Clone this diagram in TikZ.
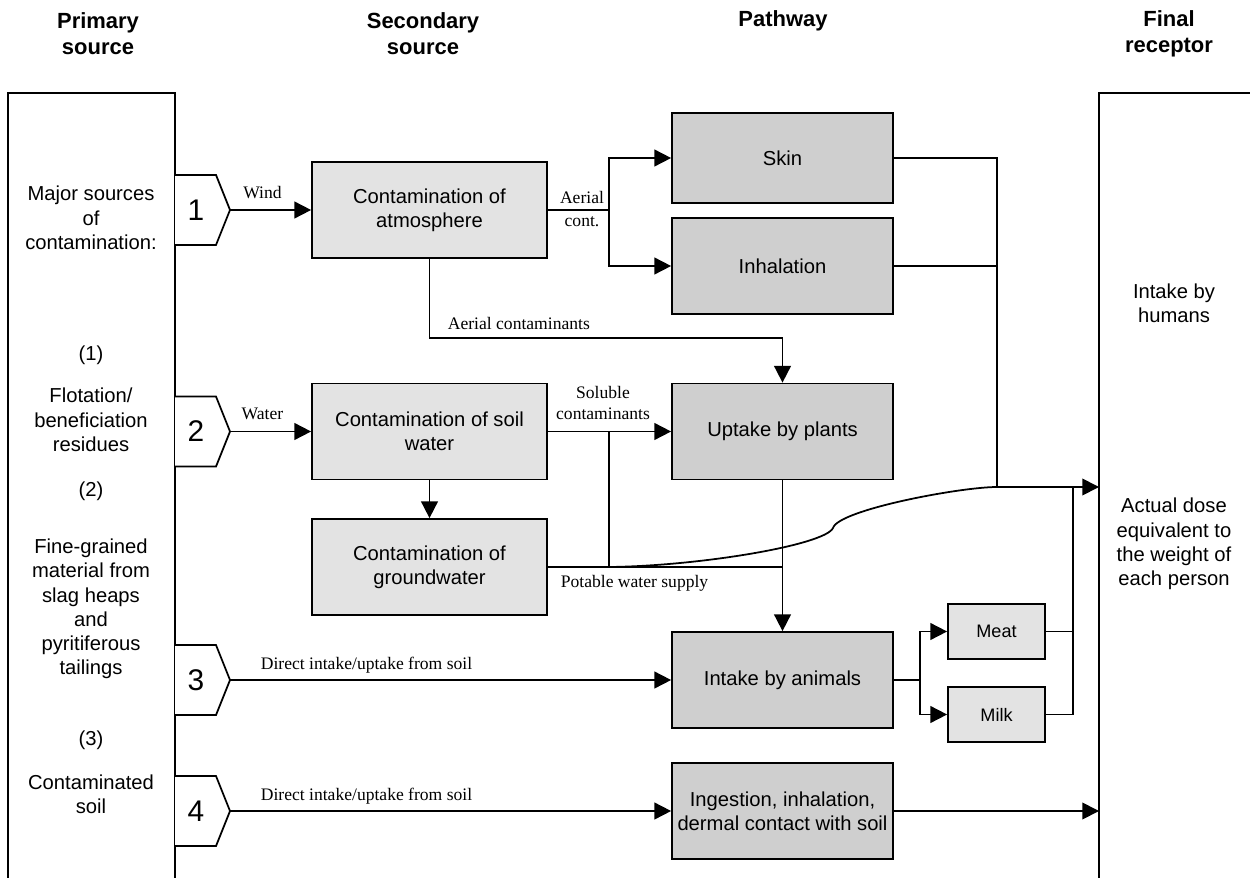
\documentclass[tikz,border=0pt]{standalone}
\usepackage{fontspec}
\setmainfont{Liberation Serif}
\setsansfont{Liberation Sans}
\usetikzlibrary{arrows.meta, positioning, calc}
\definecolor{lightfill}{HTML}{E3E3E3}
\definecolor{darkfill}{HTML}{CFCFCF}
\tikzset{
  head/.style={font=\sffamily\bfseries\fontsize{12.5}{14.8}\selectfont, align=center, inner sep=0pt},
  side/.style={font=\sffamily\fontsize{11.5}{13.8}\selectfont, align=center, inner sep=0pt},
  srcbox/.style={draw, line width=1pt, fill=lightfill, font=\sffamily\fontsize{11.5}{13.8}\selectfont,
    align=center, inner sep=0pt, minimum width=4.7cm, minimum height=1.92cm},
  waybox/.style={srcbox, fill=darkfill, minimum width=4.42cm},
  foodbox/.style={srcbox, font=\sffamily\fontsize{10.3}{12}\selectfont, minimum width=1.94cm, minimum height=1.1cm},
  frame/.style={draw, line width=0.8pt},
  tab/.style={draw, fill=white, line width=1pt},
  num/.style={font=\sffamily\fontsize{17}{20}\selectfont, inner sep=0pt},
  lbl/.style={font=\fontsize{10}{12}\selectfont, inner sep=0pt, align=center}
}
\begin{document}
\begin{tikzpicture}[x=0.02cm, y=-0.02cm, line width=1pt, >={Triangle[length=9.5pt,width=9.5pt]}]
  \useasboundingbox (0,0) rectangle (1250,878);
  \clip (0,0) rectangle (1250,878);
  % column headings
  \node[head] (hprim) at (98,34) {Primary\\source};
  \node[head] (hsec) at (423,34) {Secondary\\source};
  \node[head] (hpath) at (783,21) {Pathway};
  \node[head] (hfin) at (1169,34) {Final\\receptor};
  % primary source column
  \draw[frame] (8,93) rectangle (175,920);
  \node[side] (major) at (91,218) {Major sources\\of\\contamination:};
  \node[side] (n1) at (91,355) {(1)};
  \node[side] (flot) at (91,420) {Flotation/\\beneficiation\\residues};
  \node[side] (n2) at (91,491) {(2)};
  \node[side] (fine) at (91,609) {Fine-grained\\material from\\slag heaps\\and\\pyritiferous\\tailings};
  \node[side] (n3) at (91,740) {(3)};
  \node[side] (csoil) at (91,794) {Contaminated\\soil};
  \foreach \n/\yc in {1/210, 2/431.5, 3/680, 4/811} {
    \draw[tab] (175,\yc-35) -- (216,\yc-35) -- (230,\yc) -- (216,\yc+35) -- (175,\yc+35);
    \node[num] (t\n) at (196,\yc) {\n};
    \coordinate (p\n) at (230,\yc);
  }
  % final receptor column
  \draw[frame] (1099,93) rectangle (1280,920);
  \node[side] (humans) at (1174,303) {Intake by\\humans};
  \node[side] (dose) at (1174,544) {Actual dose\\equivalent to\\the weight of\\each person};
  \coordinate (rin) at (1099,487);
  \coordinate (rin4) at (1099,811);
  % secondary sources
  \node[srcbox] (atm) at (429.5,210) {Contamination of\\atmosphere};
  \node[srcbox] (soilw) at (429.5,431.5) {Contamination of soil\\water};
  \node[srcbox] (ground) at (429.5,567) {Contamination of\\groundwater};
  % pathways
  \node[waybox, minimum height=1.8cm] (skin) at (782.5,158) {Skin};
  \node[waybox] (inh) at (782.5,266) {Inhalation};
  \node[waybox] (plants) at (782.5,431.5) {Uptake by plants};
  \node[waybox] (animals) at (782.5,680) {Intake by animals};
  \node[waybox] (ingest) at (782.5,811) {Ingestion, inhalation,\\dermal contact with soil};
  \node[foodbox] (meat) at (996.5,631.5) {Meat};
  \node[foodbox] (milk) at (996.5,714.5) {Milk};
  % sources to secondary sources
  \draw[->] (p1) -- node[lbl, above=6pt, pos=0.4] {Wind} (atm.west);
  \draw[->] (p2) -- node[lbl, above=6pt, pos=0.4] {Water} (soilw.west);
  % atmosphere
  \coordinate (ac) at (609,210);
  \draw (atm.east) -- (ac);
  \draw[->] (ac) |- (skin.west);
  \draw[->] (ac) |- (inh.west);
  \node[lbl] (lae) at (582,197) {Aerial};
  \node[lbl] (lco) at (582,222) {cont.};
  \coordinate (ab) at (429.5,338);
  \draw[->] (atm.south) -- (ab) -| (plants.north);
  \node[lbl, anchor=west] (lac) at (447,323) {Aerial contaminants};
  % soil water and groundwater
  \draw[->] (soilw.east) -- (plants.west);
  \node[lbl] (lsol) at (603,403) {Soluble\\contaminants};
  \coordinate (sj) at (609,431.5);
  \coordinate (gj) at (609,567);
  \draw (sj) -- (gj);
  \draw[->] (soilw.south) -- (ground.north);
  \coordinate (pw) at (782.5,567);
  \draw (ground.east) -- (pw);
  \node[lbl, anchor=west] (lpot) at (560,583) {Potable water supply};
  \draw[->] (plants.south) -- (animals.north);
  \coordinate (hj) at (997,487);
  \draw (gj) .. controls (700,566) and (825,545) .. (833,528)
        .. controls (838,510) and (960,487) .. (hj);
  % to the receptor
  \draw (skin.east) -| (hj);
  \draw (inh.east) -| (hj);
  \draw[->] (hj) -- (rin);
  \coordinate (aj) at (920,680);
  \draw (animals.east) -- (aj);
  \draw[->] (aj) |- (meat.west);
  \draw[->] (aj) |- (milk.west);
  \coordinate (mj) at (1073,487);
  \draw (meat.east) -| (mj);
  \draw (milk.east) -| (mj);
  % direct intake
  \draw[->] (p3) -- (animals.west);
  \node[lbl, anchor=west] (ld3) at (260,665) {Direct intake/uptake from soil};
  \draw[->] (p4) -- (ingest.west);
  \node[lbl, anchor=west] (ld4) at (260,796) {Direct intake/uptake from soil};
  \draw[->] (ingest.east) -- (rin4);
\end{tikzpicture}
\end{document}
